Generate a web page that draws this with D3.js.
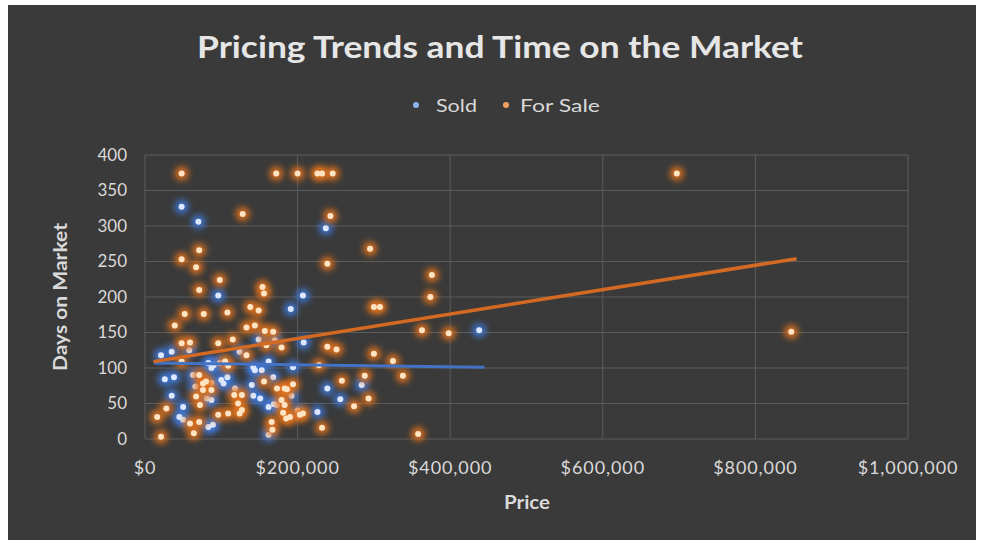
<!DOCTYPE html>
<html>
<head>
<meta charset="utf-8">
<script src="https://cdn.jsdelivr.net/npm/d3@7.9.0/dist/d3.min.js"></script>
<style>
  html, body { margin: 0; padding: 0; background: #ffffff; }
  svg { display: block; }
  text { font-family: Lato, "Open Sans", sans-serif; }
</style>
</head>
<body>
<svg id="chart" width="982" height="543"></svg>
<script>
// values, price in thousands of dollars, days on market
const soldPoints = [
  [48, 327], [70, 306], [237, 297], [96, 202], [207, 202], [191, 183],
  [438, 153], [208, 136], [194, 101], [284, 76], [239, 71], [192, 61],
  [256, 56], [200, 40], [226, 38], [149, 140], [170, 139], [124, 123],
  [21, 118], [35, 123], [58, 125], [83, 107], [98, 107], [90, 104],
  [142, 101], [162, 109], [153, 97], [26, 84], [38, 87], [100, 83],
  [108, 87], [87, 79], [140, 76], [168, 87], [66, 74], [81, 57],
  [87, 55], [142, 61], [151, 57], [35, 61], [162, 45], [173, 48],
  [50, 45], [45, 31], [50, 27], [83, 17], [89, 20], [162, 6],
  [63, 90], [87, 100], [103, 78], [118, 71], [144, 97], [169, 49]
];

const forSalePoints = [
  [48, 374], [172, 374], [200, 374], [226, 374], [232, 374], [246, 374],
  [697, 374], [128, 317], [243, 314], [295, 268], [71, 266], [48, 253],
  [67, 242], [239, 247], [376, 231], [98, 224], [71, 210], [154, 214],
  [156, 205], [374, 200], [300, 186], [308, 186], [363, 153], [398, 149],
  [847, 151], [239, 130], [251, 126], [300, 120], [325, 110], [179, 129],
  [228, 104], [338, 89], [258, 82], [288, 89], [183, 71], [194, 77],
  [179, 55], [293, 57], [274, 46], [207, 36], [181, 37], [185, 29],
  [232, 16], [358, 7], [52, 176], [77, 176], [39, 160], [48, 135],
  [59, 136], [96, 135], [48, 109], [108, 178], [138, 186], [149, 181],
  [133, 157], [144, 160], [157, 152], [168, 151], [115, 140], [159, 132],
  [133, 118], [105, 109], [109, 103], [71, 90], [80, 81], [156, 81],
  [173, 71], [76, 69], [87, 69], [117, 62], [127, 62], [67, 60],
  [186, 70], [72, 48], [122, 50], [127, 41], [96, 34], [28, 43],
  [16, 31], [59, 22], [71, 24], [109, 36], [124, 36], [166, 24],
  [167, 13], [64, 8], [21, 3], [183, 48], [76, 78], [203, 34], [190, 31]
];

// trend line end points, [price k, days]
const soldTrend = [[12, 107], [445, 101]];
const forSaleTrend = [[11, 109], [854, 254]];

const yTicks = [0, 50, 100, 150, 200, 250, 300, 350, 400];
const xTicks = [0, 200000, 400000, 600000, 800000, 1000000];

const seriesNames = ['Sold', 'For Sale'];
const seriesColors = ['#3f7be0', '#e8741c'];
const coreColors = ['#dbe8ff', '#ffe4c4'];

const svg = d3.select('#chart');

// dark chart area inside a thin white frame
svg.append('rect')
  .attr('x', 8).attr('y', 5)
  .attr('width', 968).attr('height', 535)
  .attr('fill', '#3a3a3a');

const defs = svg.append('defs');
defs.append('filter')
  .attr('id', 'glow')
  .attr('x', '-100%').attr('y', '-100%')
  .attr('width', '300%').attr('height', '300%')
  .append('feGaussianBlur')
  .attr('stdDeviation', 3);

const x = d3.scaleLinear().domain([0, 1000000]).range([145, 908]);
const y = d3.scaleLinear().domain([0, 400]).range([439, 155]);

// gridlines
svg.append('g')
  .selectAll('line')
  .data(yTicks)
  .join('line')
  .attr('x1', x(0)).attr('x2', x(1000000))
  .attr('y1', (d) => y(d)).attr('y2', (d) => y(d))
  .attr('stroke', '#5c5c5c')
  .attr('stroke-width', 1);

svg.append('g')
  .selectAll('line')
  .data(xTicks)
  .join('line')
  .attr('x1', (d) => x(d)).attr('x2', (d) => x(d))
  .attr('y1', y(0)).attr('y2', y(400))
  .attr('stroke', '#5c5c5c')
  .attr('stroke-width', 1);

// tick labels
svg.append('g')
  .selectAll('text')
  .data(yTicks)
  .join('text')
  .attr('x', 127)
  .attr('y', (d) => y(d))
  .attr('dy', '0.35em')
  .attr('text-anchor', 'end')
  .attr('fill', '#d9d9d9')
  .attr('font-size', 17)
  .text((d) => d);

const fmtPrice = d3.format('$,');
svg.append('g')
  .selectAll('text')
  .data(xTicks)
  .join('text')
  .attr('x', (d) => x(d))
  .attr('y', 474)
  .attr('text-anchor', 'middle')
  .attr('fill', '#d9d9d9')
  .attr('font-size', 18)
  .attr('letter-spacing', 0.9)
  .text((d) => fmtPrice(d));

// axis titles
svg.append('text')
  .attr('transform', 'translate(67,297) rotate(-90)')
  .attr('text-anchor', 'middle')
  .attr('fill', '#d9d9d9')
  .attr('font-size', 18)
  .attr('font-weight', 'bold')
  .attr('textLength', 148)
  .attr('lengthAdjust', 'spacingAndGlyphs')
  .text('Days on Market');

svg.append('text')
  .attr('x', 527).attr('y', 509)
  .attr('text-anchor', 'middle')
  .attr('fill', '#d9d9d9')
  .attr('font-size', 18)
  .attr('font-weight', 'bold')
  .attr('textLength', 46)
  .attr('lengthAdjust', 'spacingAndGlyphs')
  .text('Price');

// title
svg.append('text')
  .attr('x', 500).attr('y', 58)
  .attr('text-anchor', 'middle')
  .attr('fill', '#e6e6e6')
  .attr('font-size', 30)
  .attr('font-weight', 'bold')
  .attr('textLength', 606)
  .attr('lengthAdjust', 'spacingAndGlyphs')
  .text('Pricing Trends and Time on the Market');

// legend
const legendItems = [
  { name: seriesNames[0], cx: 416, tx: 436, w: 41 },
  { name: seriesNames[1], cx: 506, tx: 520, w: 80 },
];
const legend = svg.append('g');
legendItems.forEach((item, i) => {
  legend.append('circle')
    .attr('cx', item.cx).attr('cy', 105)
    .attr('r', 3)
    .attr('fill', i === 0 ? '#8fb4ec' : '#f0a060');
  legend.append('text')
    .attr('x', item.tx).attr('y', 106)
    .attr('dy', '0.35em')
    .attr('fill', '#d9d9d9')
    .attr('font-size', 18)
    .attr('textLength', item.w)
    .attr('lengthAdjust', 'spacingAndGlyphs')
    .text(item.name);
});

// points
function drawPoints(points, i) {
  const g = svg.append('g');
  g.selectAll('circle.glow')
    .data(points)
    .join('circle')
    .attr('class', 'glow')
    .attr('cx', (d) => x(d[0] * 1000))
    .attr('cy', (d) => y(d[1]))
    .attr('r', 7)
    .attr('fill', seriesColors[i])
    .attr('opacity', 0.9)
    .attr('filter', 'url(#glow)');
  g.selectAll('circle.core')
    .data(points)
    .join('circle')
    .attr('class', 'core')
    .attr('cx', (d) => x(d[0] * 1000))
    .attr('cy', (d) => y(d[1]))
    .attr('r', 3)
    .attr('fill', coreColors[i]);
}

drawPoints(soldPoints, 0);
drawPoints(forSalePoints, 1);

// trend lines
const trendLine = d3.line()
  .x((d) => x(d[0] * 1000))
  .y((d) => y(d[1]));

svg.append('path')
  .datum(soldTrend)
  .attr('d', trendLine)
  .attr('fill', 'none')
  .attr('stroke', '#4472c4')
  .attr('stroke-width', 3);

svg.append('path')
  .datum(forSaleTrend)
  .attr('d', trendLine)
  .attr('fill', 'none')
  .attr('stroke', '#d46a22')
  .attr('stroke-width', 3.5);
</script>
</body>
</html>
